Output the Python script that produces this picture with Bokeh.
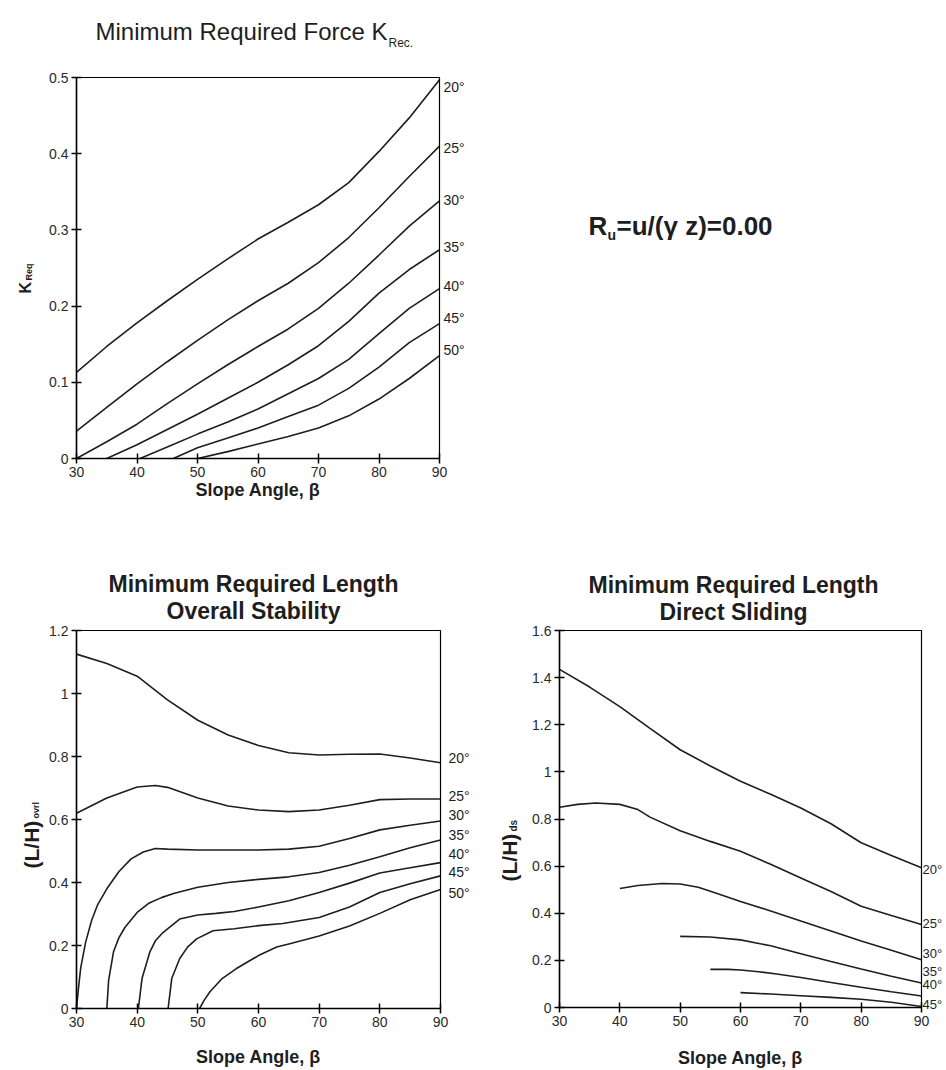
import math
from bokeh.plotting import figure
from bokeh.models import Label, FixedTicker, Range1d, LinearAxis
from bokeh.layouts import column, row
from bokeh.embed import file_html
from bokeh.resources import INLINE

FONT = "Liberation Sans"
INK = "#1e1e1e"

# ---------------- shared axis data ----------------
slope_ticks = [30, 40, 50, 60, 70, 80, 90]
slope_tick_labels = ["30", "40", "50", "60", "70", "80", "90"]
phi_labels = ["20°", "25°", "30°", "35°", "40°", "45°", "50°"]

# ---------------- Minimum required force K_req ----------------
kreq_ticks = [0, 0.1, 0.2, 0.3, 0.4, 0.5]
kreq_tick_labels = ["0", "0.1", "0.2", "0.3", "0.4", "0.5"]

kreq_b20 = [30, 35, 40, 45, 50, 55, 60, 65, 70, 75, 80, 85, 90]
kreq_k20 = [0.113, 0.147, 0.178, 0.207, 0.235, 0.262, 0.288, 0.310, 0.333, 0.362, 0.403, 0.447, 0.497]
kreq_b25 = [30, 35, 40, 45, 50, 55, 60, 65, 70, 75, 80, 85, 90]
kreq_k25 = [0.036, 0.067, 0.098, 0.127, 0.155, 0.182, 0.207, 0.230, 0.257, 0.290, 0.329, 0.370, 0.410]
kreq_b30 = [30, 35, 40, 45, 50, 55, 60, 65, 70, 75, 80, 85, 90]
kreq_k30 = [0.0, 0.022, 0.045, 0.072, 0.098, 0.123, 0.147, 0.170, 0.197, 0.230, 0.267, 0.305, 0.338]
kreq_b35 = [35, 40, 45, 50, 55, 60, 65, 70, 75, 80, 85, 90]
kreq_k35 = [0.0, 0.018, 0.038, 0.058, 0.079, 0.100, 0.123, 0.148, 0.180, 0.217, 0.248, 0.274]
kreq_b40 = [40.5, 45, 50, 55, 60, 65, 70, 75, 80, 85, 90]
kreq_k40 = [0.0, 0.015, 0.032, 0.048, 0.065, 0.085, 0.105, 0.130, 0.164, 0.197, 0.223]
kreq_b45 = [46, 50, 55, 60, 65, 70, 75, 80, 85, 90]
kreq_k45 = [0.0, 0.014, 0.027, 0.040, 0.055, 0.070, 0.092, 0.120, 0.152, 0.177]
kreq_b50 = [50, 55, 60, 65, 70, 75, 80, 85, 90]
kreq_k50 = [0.0, 0.009, 0.019, 0.029, 0.040, 0.056, 0.078, 0.105, 0.135]
kreq_label_y = [0.488, 0.408, 0.339, 0.277, 0.227, 0.184, 0.142]

# ---------------- Minimum required length, overall stability ----------------
ovrl_ticks = [0, 0.2, 0.4, 0.6, 0.8, 1.0, 1.2]
ovrl_tick_labels = ["0", "0.2", "0.4", "0.6", "0.8", "1", "1.2"]

ovrl_b20 = [30, 35, 40, 45, 50, 55, 60, 65, 70, 75, 80, 85, 90]
ovrl_l20 = [1.125, 1.095, 1.055, 0.980, 0.915, 0.868, 0.835, 0.812, 0.805, 0.807, 0.808, 0.795, 0.780]
ovrl_b25 = [30, 35, 40, 43, 45, 50, 55, 60, 65, 70, 75, 80, 85, 90]
ovrl_l25 = [0.620, 0.668, 0.703, 0.708, 0.702, 0.668, 0.643, 0.630, 0.625, 0.630, 0.645, 0.663, 0.665, 0.665]
ovrl_b30 = [30, 30.3, 30.7, 31.5, 32.5, 33.5, 35, 37, 39, 41, 43, 45, 50, 55, 60, 65, 70, 75, 80, 85, 90]
ovrl_l30 = [0.0, 0.06, 0.13, 0.21, 0.28, 0.33, 0.38, 0.435, 0.475, 0.497, 0.508, 0.506, 0.503, 0.503, 0.503,
            0.506, 0.515, 0.540, 0.567, 0.582, 0.595]
ovrl_b35 = [35, 35.3, 36.1, 37, 38, 40, 42, 44, 46, 50, 55, 60, 65, 70, 75, 80, 85, 90]
ovrl_l35 = [0.0, 0.09, 0.18, 0.225, 0.258, 0.305, 0.335, 0.352, 0.365, 0.385, 0.400, 0.410, 0.418, 0.432,
            0.455, 0.482, 0.510, 0.535]
ovrl_b40 = [40.2, 40.8, 42.1, 43, 44.3, 47, 50, 53, 56, 60, 65, 70, 75, 80, 85, 90]
ovrl_l40 = [0.0, 0.095, 0.18, 0.215, 0.242, 0.284, 0.297, 0.302, 0.308, 0.322, 0.342, 0.368, 0.398, 0.430,
            0.447, 0.463]
ovrl_b45 = [45.1, 45.7, 47, 48.3, 49.8, 52.5, 56, 60, 64, 70, 75, 80, 85, 90]
ovrl_l45 = [0.0, 0.095, 0.158, 0.195, 0.221, 0.247, 0.253, 0.263, 0.270, 0.289, 0.322, 0.368, 0.396, 0.421]
ovrl_b50 = [50.3, 51, 52, 54, 56.3, 60, 63, 65, 70, 75, 80, 85, 90]
ovrl_l50 = [0.0, 0.025, 0.053, 0.095, 0.126, 0.168, 0.195, 0.205, 0.230, 0.262, 0.302, 0.345, 0.378]
ovrl_label_y = [0.794, 0.676, 0.613, 0.552, 0.492, 0.432, 0.368]

# ---------------- Minimum required length, direct sliding ----------------
ds_ticks = [0, 0.2, 0.4, 0.6, 0.8, 1.0, 1.2, 1.4, 1.6]
ds_tick_labels = ["0", "0.2", "0.4", "0.6", "0.8", "1", "1.2", "1.4", "1.6"]

ds_b20 = [30, 35, 40, 45, 50, 55, 60, 65, 70, 75, 80, 85, 90]
ds_l20 = [1.435, 1.360, 1.277, 1.185, 1.094, 1.025, 0.960, 0.905, 0.847, 0.780, 0.699, 0.645, 0.593]
ds_b25 = [30, 33, 36, 40, 43, 45, 50, 55, 60, 65, 70, 75, 80, 85, 90]
ds_l25 = [0.850, 0.862, 0.868, 0.862, 0.840, 0.808, 0.750, 0.705, 0.663, 0.608, 0.550, 0.492, 0.430, 0.390, 0.352]
ds_b30 = [40, 43, 47, 50, 53, 56, 60, 65, 70, 75, 80, 85, 90]
ds_l30 = [0.505, 0.518, 0.526, 0.524, 0.510, 0.485, 0.450, 0.410, 0.367, 0.325, 0.282, 0.243, 0.203]
ds_b35 = [50, 55, 60, 65, 70, 75, 80, 85, 90]
ds_l35 = [0.302, 0.299, 0.287, 0.262, 0.228, 0.195, 0.163, 0.133, 0.104]
ds_b40 = [55, 58, 60, 63, 66, 70, 75, 80, 85, 90]
ds_l40 = [0.162, 0.162, 0.159, 0.152, 0.142, 0.127, 0.106, 0.086, 0.067, 0.049]
ds_b45 = [60, 65, 70, 75, 80, 85, 90]
ds_l45 = [0.063, 0.057, 0.050, 0.043, 0.035, 0.022, 0.004]
ds_label_y = [0.586, 0.358, 0.230, 0.153, 0.096, 0.011]


def make_panel(y_max, y_ticks, y_labels, fw, fh, bl, br, bt, bb, xlabel_standoff):
    p = figure(frame_width=fw, frame_height=fh,
               x_range=Range1d(30, 90), y_range=Range1d(0, y_max),
               output_backend="svg", toolbar_location=None,
               min_border_left=bl, min_border_right=br, min_border_top=bt, min_border_bottom=bb,
               background_fill_color="white", border_fill_color="white")
    p.grid.visible = False
    p.outline_line_color = "black"
    p.outline_line_width = 1.2
    for ax, ticks, labels in ((p.xaxis[0], slope_ticks, slope_tick_labels),
                              (p.yaxis[0], y_ticks, y_labels)):
        ax.ticker = FixedTicker(ticks=ticks)
        ax.major_label_overrides = dict(zip(ticks, labels))
        ax.minor_tick_line_color = None
        ax.major_tick_in = 5
        ax.major_tick_out = 5
        ax.axis_line_width = 1.5
        ax.axis_line_color = "black"
        ax.major_tick_line_width = 1.5
        ax.major_tick_line_color = "black"
        ax.major_label_text_font = FONT
        ax.major_label_text_font_size = "14px"
        ax.major_label_text_color = "#2a2a2a"
        ax.major_label_standoff = 3
    xa = p.xaxis[0]
    xa.axis_label = "Slope Angle, β"
    xa.axis_label_text_font = FONT
    xa.axis_label_text_font_size = "18px"
    xa.axis_label_text_font_style = "bold"
    xa.axis_label_text_color = INK
    xa.axis_label_standoff = xlabel_standoff
    return p


def phi_axis(p, ys, names, standoff, size="14px"):
    ax = LinearAxis(ticker=FixedTicker(ticks=ys),
                    major_label_overrides=dict(zip(ys, names)),
                    axis_line_color=None, major_tick_line_color=None,
                    minor_tick_line_color=None, major_tick_in=0, major_tick_out=0,
                    major_label_standoff=standoff,
                    major_label_text_font=FONT, major_label_text_font_size=size,
                    major_label_text_color=INK)
    p.add_layout(ax, "right")


def lbl(p, side, text, x, y, xo, yo, size, bold=False, align="left", angle=0.0):
    p.add_layout(Label(x=x, y=y, x_offset=xo, y_offset=yo, text=text,
                       text_font=FONT, text_font_size=size,
                       text_font_style="bold" if bold else "normal",
                       text_color=INK, text_align=align, text_baseline="alphabetic",
                       angle=angle), side)


def curves(p, pairs):
    for b, v in pairs:
        p.line(b, v, line_color=INK, line_width=1.6)


# ---------- top panel ----------
p_top = make_panel(0.5, kreq_ticks, kreq_tick_labels, 363, 381, 76, 507, 77, 62, 0)
curves(p_top, [(kreq_b20, kreq_k20), (kreq_b25, kreq_k25), (kreq_b30, kreq_k30),
               (kreq_b35, kreq_k35), (kreq_b40, kreq_k40), (kreq_b45, kreq_k45),
               (kreq_b50, kreq_k50)])
phi_axis(p_top, kreq_label_y, phi_labels, 4)
lbl(p_top, "above", "Minimum Required Force K", 30, 0.5, 19, 46, "24px")
lbl(p_top, "above", "Rec.", 30, 0.5, 312, 35, "12px")
lbl(p_top, "left", "K", 30, 0, -51, 165, "16px", bold=True, angle=math.pi / 2)
lbl(p_top, "left", "Req", 30, 0, -48, 178, "9px", bold=True, angle=math.pi / 2)
lbl(p_top, "right", "R", 30, 0.5, 512, -148, "26px", bold=True)
lbl(p_top, "right", "u", 30, 0.5, 531, -157, "14px", bold=True)
lbl(p_top, "right", "=u/(γ z)=0.00", 30, 0.5, 540, -148, "26px", bold=True)

# ---------- bottom-left panel ----------
p_bl = make_panel(1.2, ovrl_ticks, ovrl_tick_labels, 364, 378, 76, 40, 110, 62, 17)
curves(p_bl, [(ovrl_b20, ovrl_l20), (ovrl_b25, ovrl_l25), (ovrl_b30, ovrl_l30),
              (ovrl_b35, ovrl_l35), (ovrl_b40, ovrl_l40), (ovrl_b45, ovrl_l45),
              (ovrl_b50, ovrl_l50)])
phi_axis(p_bl, ovrl_label_y, phi_labels, 8)
lbl(p_bl, "above", "Minimum Required Length", 60, 1.2, -5, 47, "23px", bold=True, align="center")
lbl(p_bl, "above", "Overall Stability", 60, 1.2, -5, 20, "23px", bold=True, align="center")
lbl(p_bl, "left", "(L/H)", 30, 0, -45, 140, "21px", bold=True, angle=math.pi / 2)
lbl(p_bl, "left", "ovrl", 30, 0, -41, 190, "9px", bold=True, angle=math.pi / 2)

# ---------- bottom-right panel ----------
p_br = make_panel(1.6, ds_ticks, ds_tick_labels, 362, 377, 79, 23, 109, 64, 19)
curves(p_br, [(ds_b20, ds_l20), (ds_b25, ds_l25), (ds_b30, ds_l30),
              (ds_b35, ds_l35), (ds_b40, ds_l40), (ds_b45, ds_l45)])
phi_axis(p_br, ds_label_y, phi_labels[:6], 1, "13px")
lbl(p_br, "above", "Minimum Required Length", 60, 1.6, -7, 46, "23px", bold=True, align="center")
lbl(p_br, "above", "Direct Sliding", 60, 1.6, -7, 19, "23px", bold=True, align="center")
lbl(p_br, "left", "(L/H)", 30, 0, -50, 126, "21px", bold=True, angle=math.pi / 2)
lbl(p_br, "left", "ds", 30, 0, -46, 176, "10px", bold=True, angle=math.pi / 2)

layout = column(p_top, row(p_bl, p_br))
open("out.html", "w").write(file_html(layout, INLINE))
